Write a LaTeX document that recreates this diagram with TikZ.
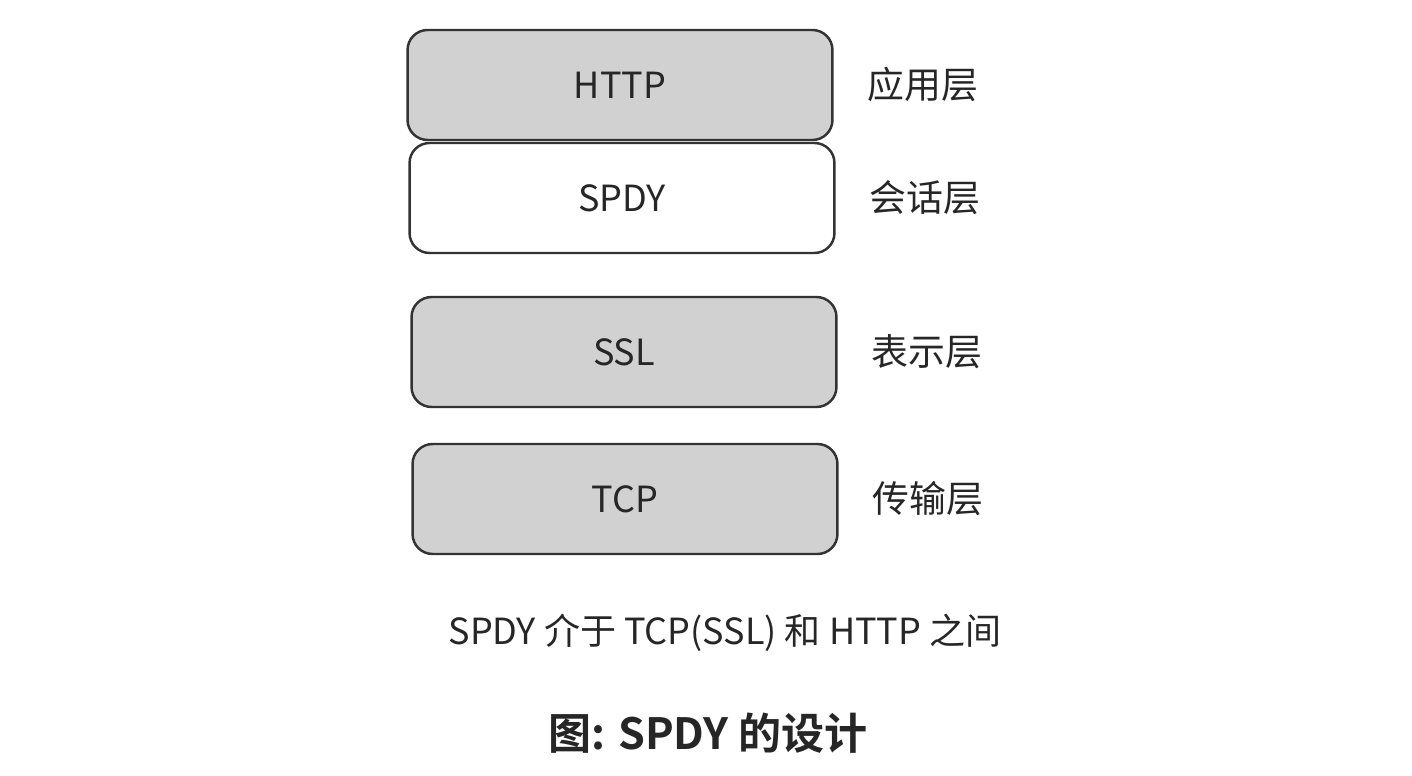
\documentclass[tikz,border=0pt]{standalone}
\usepackage{fontspec}
\setmainfont{Noto Sans CJK SC}[BoldFont={Noto Sans CJK SC Bold}]
\usetikzlibrary{positioning}
\tikzset{layer/.style = {draw = black!80, line width = 1.4pt, rounded corners = 0.4cm,
    minimum width = 8.5cm, minimum height = 2.2cm, inner sep = 0,
    font = \fontsize{20.5}{24}\selectfont, text = black!85}}
\tikzset{shade/.style = {layer, fill = black!18}}
\tikzset{tag/.style = {font = \fontsize{21}{24}\selectfont, text = black!85}}
\begin{document}
\begin{tikzpicture}[x = 0.02cm, y = -0.02cm]

      \useasboundingbox (0, 0) rectangle (1412, 776);

      \node [shade] (http) at (620, 85) {HTTP};
      \node [layer] (spdy) at (622, 198) {SPDY};
      \node [shade] (ssl) at (624, 352) {SSL};
      \node [shade] (tcp) at (625, 499) {TCP};

      \node [tag, right = 0.55cm of http] (app) {应用层};
      \node [tag, right = 0.55cm of spdy] (sess) {会话层};
      \node [tag, right = 0.55cm of ssl] (pres) {表示层};
      \node [tag, right = 0.55cm of tcp] (trans) {传输层};

      \node [tag, font = \fontsize{20.5}{24}\selectfont] (note) at (725, 633) {SPDY 介于 TCP(SSL) 和 HTTP 之间};
      \node [tag, font = \fontsize{24.5}{28}\selectfont\bfseries] (title) at (708, 733) {图: SPDY 的设计};

    \end{tikzpicture}
\end{document}
